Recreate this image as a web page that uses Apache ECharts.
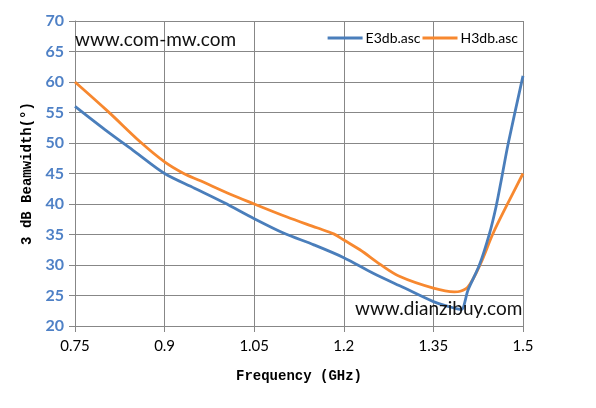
<!DOCTYPE html>
<html>
<head>
<meta charset="utf-8">
<script src="https://cdn.jsdelivr.net/npm/echarts@6/dist/echarts.min.js"></script>
<style>html,body{margin:0;padding:0;background:#fff}#c{width:596px;height:408px}</style>
</head>
<body>
<div id="c"></div>
<script>
// Data
const freqE = [0.75, 0.8, 0.85, 0.9, 0.95, 1.0, 1.05, 1.1, 1.15, 1.2, 1.25, 1.3, 1.35, 1.375, 1.39, 1.397, 1.408, 1.427, 1.444, 1.455, 1.464, 1.475, 1.5];
const E3db  = [56, 52.2, 48.6, 45, 42.6, 40.2, 37.6, 35.2, 33.3, 31.2, 28.6, 26.3, 24.0, 23.2, 22.8, 22.7, 25.9, 30, 35.2, 39.6, 44.1, 49.8, 61];
const freqH = [0.75, 0.806, 0.859, 0.9, 0.932, 0.96, 1.01, 1.05, 1.104, 1.155, 1.183, 1.2, 1.227, 1.261, 1.294, 1.35, 1.385, 1.395, 1.408, 1.428, 1.45, 1.473, 1.5];
const H3db  = [60, 55.1, 50.2, 46.9, 45.0, 43.8, 41.6, 40.0, 37.9, 36.1, 35.1, 34.1, 32.5, 30.1, 28.1, 26.2, 25.6, 25.7, 26.4, 30.0, 35.2, 39.8, 45];
const seriesNames = ['E3db.asc', 'H3db.asc'];
const xName = 'Frequency (GHz)';
const yName = '3 dB Beamwidth(°)';
const watermark1 = 'www.com-mw.com';
const watermark2 = 'www.dianzibuy.com';

const pair = (xs, ys) => xs.map((x, i) => [x, ys[i]]);
const chart = echarts.init(document.getElementById('c'), null, {renderer: 'canvas'});
const gridColor = '#878787';
const option = {
  animation: false,
  backgroundColor: '#ffffff',
  grid: {left: 75, right: 73, top: 21, bottom: 82, containLabel: false},
  legend: {
    data: seriesNames,
    right: 73, top: 26,
    itemWidth: 35, itemHeight: 3, itemGap: 2,
    icon: 'rect',
    textStyle: {fontFamily: 'Lato', fontSize: 14, color: '#000', padding: [0, 0, 0, -2]}
  },
  xAxis: {
    type: 'value', min: 0.75, max: 1.5, interval: 0.15,
    name: xName, nameLocation: 'middle', nameGap: 43,
    nameTextStyle: {fontFamily: 'Liberation Mono', fontSize: 14, fontWeight: 'bold', color: '#000'},
    axisLine: {show: true, lineStyle: {color: gridColor, width: 1}},
    axisTick: {show: true, length: 6, lineStyle: {color: gridColor}},
    axisLabel: {fontFamily: 'Lato', fontSize: 15, color: '#000', margin: 13},
    splitLine: {show: true, lineStyle: {color: gridColor, width: 1}}
  },
  yAxis: {
    type: 'value', min: 20, max: 70, interval: 5,
    name: yName, nameLocation: 'middle', nameGap: 35, nameRotate: 90,
    nameTextStyle: {fontFamily: 'Liberation Mono', fontSize: 14, fontWeight: 'bold', color: '#000'},
    axisLine: {show: true, lineStyle: {color: gridColor, width: 1}},
    axisTick: {show: true, length: 6, lineStyle: {color: gridColor}},
    axisLabel: {fontFamily: 'Lato', fontSize: 16, fontWeight: 'bold', color: '#4f81c6', margin: 11},
    splitLine: {show: true, lineStyle: {color: gridColor, width: 1}}
  },
  series: [
    {name: seriesNames[0], type: 'line', data: pair(freqE, E3db), showSymbol: false, smooth: 0.3,
     lineStyle: {color: '#4a7ebb', width: 2.8}, itemStyle: {color: '#4a7ebb'}, z: 3},
    {name: seriesNames[1], type: 'line', data: pair(freqH, H3db), showSymbol: false, smooth: 0.35,
     lineStyle: {color: '#f7882f', width: 2.8}, itemStyle: {color: '#f7882f'}, z: 2}
  ],
  graphic: [
    {type: 'text', left: 75, top: 30, z: 10,
     style: {text: watermark1, font: '19px Lato', fill: '#111', shadowBlur: 2, shadowColor: 'rgba(0,0,0,0.35)', shadowOffsetX: 1, shadowOffsetY: 1}},
    {type: 'text', left: 355, top: 299, z: 10,
     style: {text: watermark2, font: '19px Lato', fill: '#111', shadowBlur: 2, shadowColor: 'rgba(0,0,0,0.35)', shadowOffsetX: 1, shadowOffsetY: 1}}
  ]
};
chart.setOption(option);
</script>
</body>
</html>
